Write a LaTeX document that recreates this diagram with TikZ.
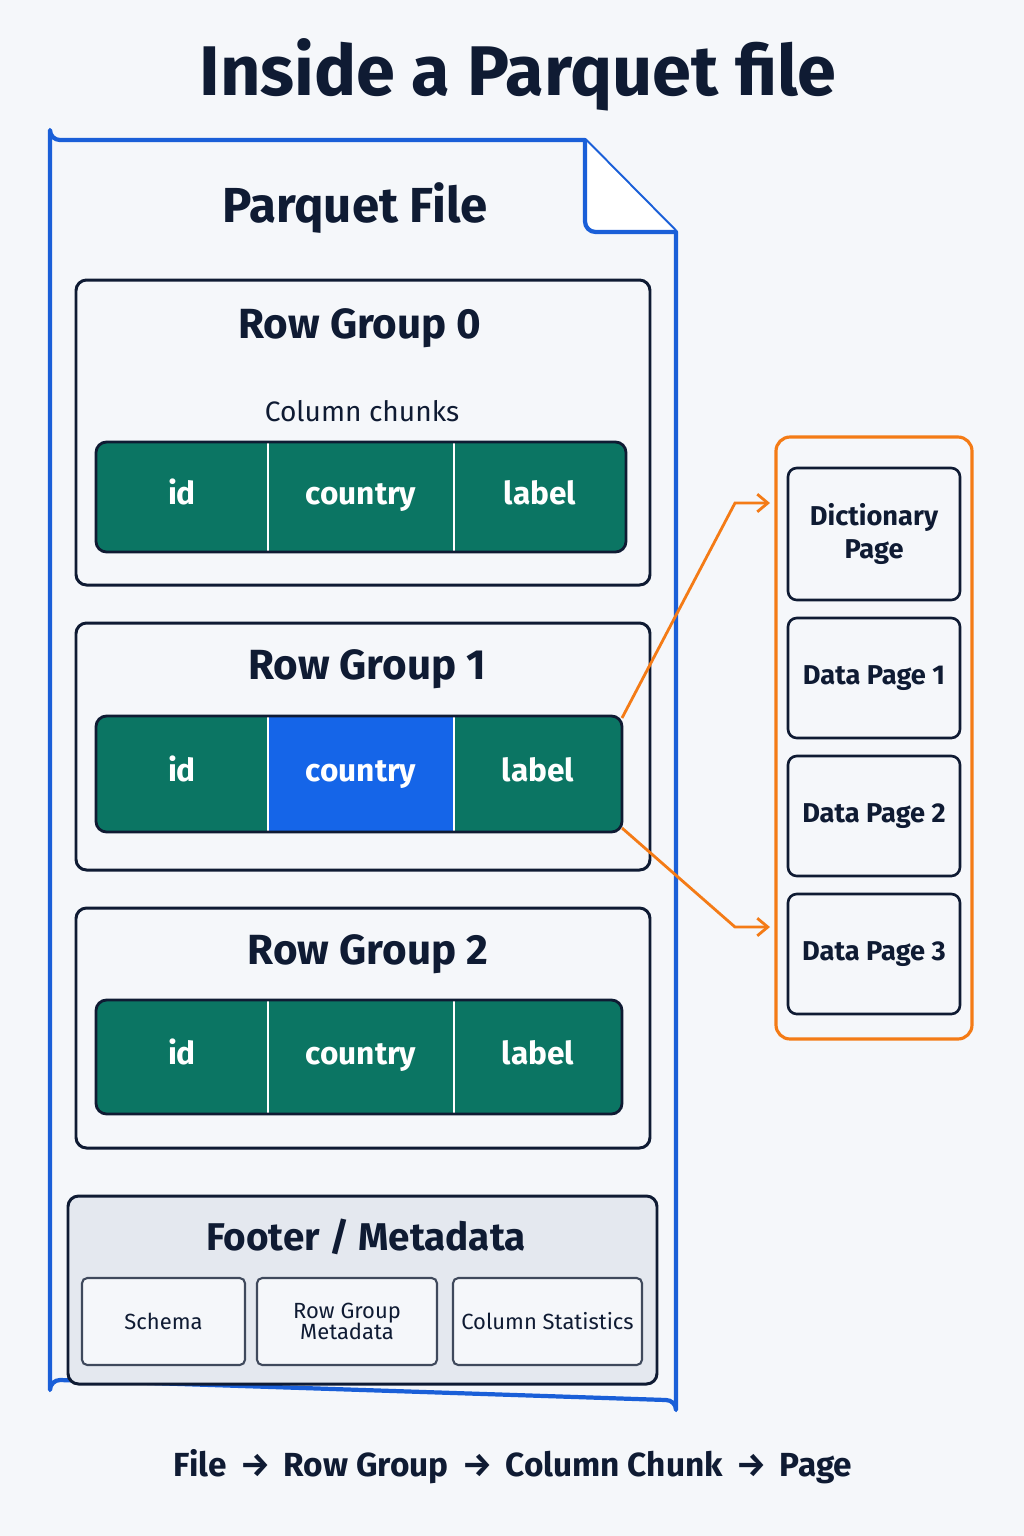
\documentclass[tikz,border=0pt]{standalone}
\usepackage{fontspec}
\setmainfont{Fira Sans}
\usetikzlibrary{positioning,arrows.meta}
\definecolor{navy}{HTML}{0F1B33}
\definecolor{fileblue}{HTML}{1A5FD8}
\definecolor{chunkteal}{HTML}{0B7563}
\definecolor{chunkblue}{HTML}{1565E8}
\definecolor{pageorange}{HTML}{F47B16}
\definecolor{bgpaper}{HTML}{F5F7FA}
\definecolor{footgray}{HTML}{E4E8EF}
\tikzset{
  group/.style={draw=navy, line width=1.7pt, rounded corners=6pt},
  cell/.style={text=white, font=\fontsize{18}{20}\selectfont\bfseries, inner sep=0pt,
    text height=13pt, text depth=4pt},
  head/.style={text=navy, font=\fontsize{24}{26}\selectfont\bfseries},
  page/.style={draw=navy, line width=1.5pt, rounded corners=5pt, fill=bgpaper,
    text=navy, align=center, font=\fontsize{15.5}{19}\selectfont\bfseries},
  meta/.style={draw=navy!80, line width=1.2pt, rounded corners=3pt, fill=bgpaper,
    text=navy, align=center, font=\fontsize{12.5}{14}\selectfont},
  link/.style={draw=pageorange, line width=1.6pt, -{Straight Barb[length=6pt,width=10pt]}}
}
\begin{document}
\begin{tikzpicture}[x=0.02cm,y=-0.02cm]
  \fill[bgpaper] (0,0) rectangle (1024,1536);
  \useasboundingbox (0,0) rectangle (1024,1536);
  \node[text=navy, font=\fontsize{40}{44}\selectfont\bfseries] (title) at (518,75) {Inside a Parquet file};
  % file outline with folded corner
  \draw[fileblue, line width=2.4pt, fill=bgpaper, line join=round]
    (585,140) -- (60,140) arc[start angle=90, end angle=180, radius=10]
    -- (50,1390) arc[start angle=180, end angle=270, radius=10]
    -- (666,1400) arc[start angle=270, end angle=360, radius=10] -- (676,232) -- cycle;
  \draw[fileblue, line width=2.4pt, rounded corners=6pt, fill=white, line join=round]
    (585,140) -- (585,232) -- (676,232);
  \node[text=navy, font=\fontsize{28}{30}\selectfont\bfseries] (ftitle) at (355,208) {Parquet File};
  % row groups
  \foreach \g/\top/\bot/\hx/\hy in {0/280/585/360/328, 1/623/870/367/669, 2/908/1148/368/954} {
    \draw[group] (76,\top) rectangle (650,\bot);
    \node[head] (rg\g) at (\hx,\hy) {Row Group \g};
  }
  \node[text=navy, font=\fontsize{16}{18}\selectfont] (cclab) at (362,411) {Column chunks};
  % column chunk cells
  \foreach \g/\ct/\cb/\r in {0/442/552/626, 1/716/832/622, 2/1000/1114/622} {
    \fill[chunkteal, rounded corners=6pt] (96,\ct) rectangle (\r,\cb);
  }
  \fill[chunkblue] (268,716) rectangle (453,832);
  \foreach \g/\ct/\cb/\r in {0/442/552/626, 1/716/832/622, 2/1000/1114/622} {
    \node[cell] (id\g) at (182,{(\ct+\cb)/2}) {id};
    \node[cell] (country\g) at (361,{(\ct+\cb)/2}) {country};
    \node[cell] (label\g) at ({(454+\r)/2},{(\ct+\cb)/2}) {label};
    \draw[white, line width=1.6pt] (268,\ct) -- (268,\cb) (454,\ct) -- (454,\cb);
    \draw[navy, line width=1.6pt, rounded corners=6pt] (96,\ct) rectangle (\r,\cb);
  }
  % footer
  \draw[group, fill=footgray] (68,1196) rectangle (657,1384);
  \node[text=navy, font=\fontsize{22}{24}\selectfont\bfseries] (foot) at (366,1237) {Footer / Metadata};
  \node[meta, minimum width=163*0.02cm, minimum height=87*0.02cm] (schema) at (163.5,1321.5) {Schema};
  \node[meta, minimum width=180*0.02cm, minimum height=87*0.02cm] (rgmeta) at (347,1321.5) {Row Group\\[-2pt]Metadata};
  \node[meta, minimum width=189*0.02cm, minimum height=87*0.02cm] (colstat) at (547.5,1321.5) {Column Statistics};
  % pages
  \draw[pageorange, line width=1.8pt, rounded corners=8pt] (776,437) rectangle (972,1039);
  \node[page, minimum width=172*0.02cm, minimum height=132*0.02cm] (dict) at (874,534) {Dictionary\\Page};
  \node[page, minimum width=172*0.02cm, minimum height=120*0.02cm] (dp1) at (874,678) {Data Page 1};
  \node[page, minimum width=172*0.02cm, minimum height=120*0.02cm] (dp2) at (874,816) {Data Page 2};
  \node[page, minimum width=172*0.02cm, minimum height=120*0.02cm] (dp3) at (874,954) {Data Page 3};
  \coordinate (up) at (622,718);
  \coordinate (down) at (622,828);
  \coordinate (upend) at (770,503);
  \coordinate (downend) at (770,927);
  \draw[link] (up) -- (735,503) -- (upend);
  \draw[link] (down) -- (735,927) -- (downend);
  % hierarchy
  \node[text=navy, font=\fontsize{19}{21}\selectfont\bfseries] (path) at (513,1467)
    {File \,→\, Row Group \,→\, Column Chunk \,→\, Page};
\end{tikzpicture}
\end{document}
